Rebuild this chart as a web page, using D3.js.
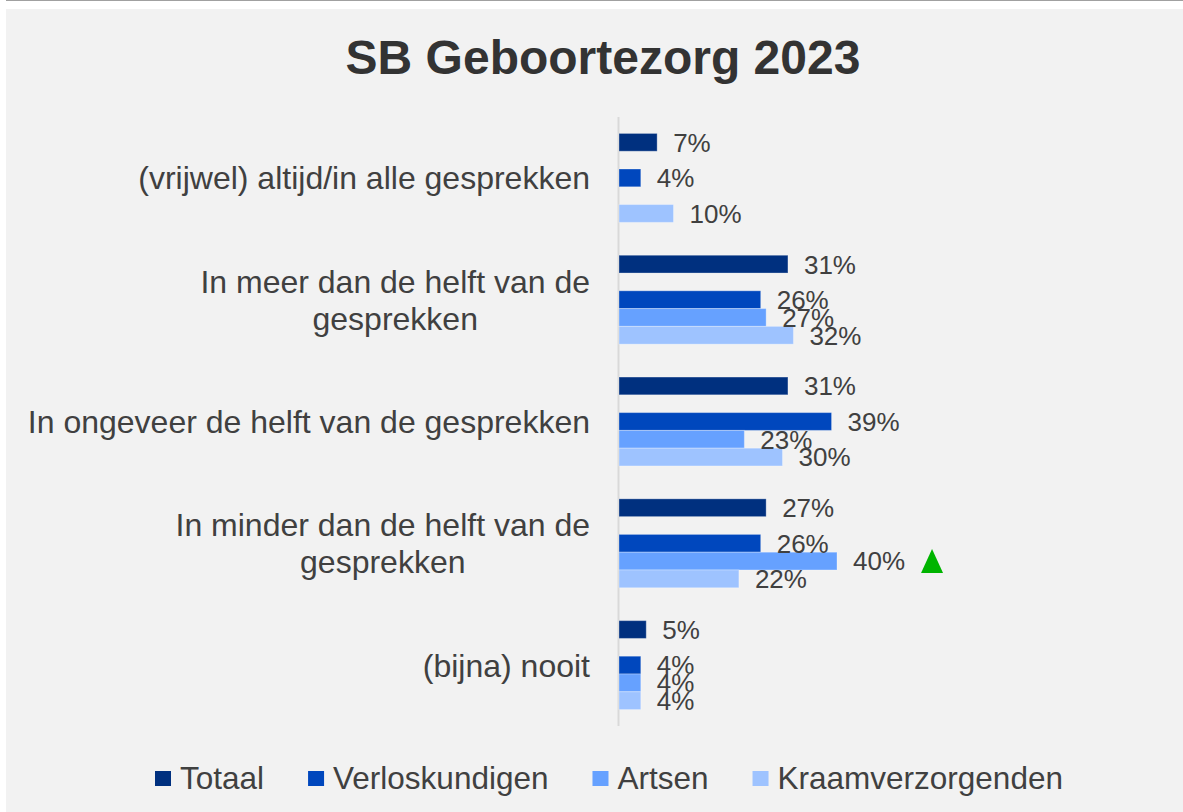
<!DOCTYPE html>
<html>
<head>
<meta charset="utf-8">
<script src="https://cdn.jsdelivr.net/npm/d3@7"></script>
<style>
  body { margin: 0; background: #fff; }
  svg { display: block; font-family: "Liberation Sans", Arial, sans-serif; }
</style>
</head>
<body>
<script>
// data (percentages)
const categories = [
    "(vrijwel) altijd/in alle gesprekken",
    "In meer dan de helft van de gesprekken",
    "In ongeveer de helft van de gesprekken",
    "In minder dan de helft van de gesprekken",
    "(bijna) nooit"
]
// labels that wrap onto two lines
const categoryLines = [
    ["(vrijwel) altijd/in alle gesprekken"],
    ["In meer dan de helft van de", "gesprekken"],
    ["In ongeveer de helft van de gesprekken"],
    ["In minder dan de helft van de", "gesprekken"],
    ["(bijna) nooit"]
]
const series = ["Totaal", "Verloskundigen", "Artsen", "Kraamverzorgenden"]
const totaal = [7, 31, 31, 27, 5]
const verloskundigen = [4, 26, 39, 26, 4]
const artsen = [null, 27, 23, 40, 4]
const kraamverzorgenden = [10, 32, 30, 22, 4]
// significantly higher than previous measurement
const significant = [{ category: "In minder dan de helft van de gesprekken", series: "Artsen" }]

const colors = {
    "Totaal": "#00307f",
    "Verloskundigen": "#0047bd",
    "Artsen": "#66a1ff",
    "Kraamverzorgenden": "#9ec3ff"
}

const measurements = { width: 1183, height: 812 }

const values = [totaal, verloskundigen, artsen, kraamverzorgenden]
const rows = categories.map((c, i) => ({
    category: c,
    bars: series.map((s, j) => ({ category: c, series: s, value: values[j][i] }))
        .filter(d => d.value !== null)
}))

const svg = d3.select("body").append("svg")
    .attr("width", measurements.width)
    .attr("height", measurements.height)

// panel background + thin rule at the top
svg.append("line")
    .attr("x1", 6).attr("x2", measurements.width)
    .attr("y1", 0.5).attr("y2", 0.5)
    .attr("stroke", "#a0a0a0")
svg.append("rect")
    .attr("x", 6).attr("y", 9)
    .attr("width", measurements.width - 6)
    .attr("height", measurements.height - 9)
    .attr("fill", "#f2f2f2")

svg.append("text")
    .attr("x", 603).attr("y", 74)
    .attr("text-anchor", "middle")
    .attr("font-size", 48)
    .attr("font-weight", "bold")
    .attr("fill", "#333")
    .text("SB Geboortezorg 2023")

// scales
const x = d3.scaleLinear().domain([0, 40]).range([619, 837])
const y0 = d3.scaleBand().domain(categories)
    .range([117, 726])
    .paddingInner(0.27)
    .paddingOuter(0.135)
// Totaal sits apart from the other three, one empty slot between
const slots = ["Totaal", "", "Verloskundigen", "Artsen", "Kraamverzorgenden"]
const y1 = d3.scaleBand().domain(slots).range([0, y0.bandwidth()])

// vertical axis line
svg.append("line")
    .attr("x1", x(0) - 0.5).attr("x2", x(0) - 0.5)
    .attr("y1", 117).attr("y2", 726)
    .attr("stroke", "#d9d9d9")
    .attr("stroke-width", 2)

const groups = svg.selectAll(".group")
    .data(rows)
    .enter()
    .append("g")
    .attr("class", "group")
    .attr("transform", d => `translate(0,${y0(d.category)})`)

groups.selectAll("rect")
    .data(d => d.bars)
    .enter()
    .append("rect")
    .attr("x", x(0))
    .attr("y", d => y1(d.series))
    .attr("width", d => x(d.value) - x(0))
    .attr("height", y1.bandwidth())
    .attr("fill", d => colors[d.series])
    .attr("stroke", "#ffffff")
    .attr("stroke-opacity", 0.3)
    .attr("stroke-width", 1)

const valueLabels = groups.selectAll(".val")
    .data(d => d.bars)
    .enter()
    .append("text")
    .attr("class", "val")
    .attr("x", d => x(d.value) + 16)
    .attr("y", d => y1(d.series) + y1.bandwidth() / 2)
    .attr("dy", "0.36em")
    .attr("font-size", 26)
    .attr("fill", "#404040")
    .text(d => d.value + "%")

// green up-triangle after significant labels
valueLabels.each(function (d) {
    const hit = significant.find(s => s.category === d.category && s.series === d.series)
    if (!hit) return
    const end = x(d.value) + 16 + this.getComputedTextLength() + 16
    const cy = y0(d.category) + y1(d.series) + y1.bandwidth() / 2
    svg.append("path")
        .attr("d", `M${end},${cy + 12} L${end + 22},${cy + 12} L${end + 11},${cy - 12} Z`)
        .attr("fill", "#00b400")
})

// category labels: block right-aligned, lines centred inside the block
const labelRight = 590
const lineHeight = 37
categoryLines.forEach((lines, i) => {
    const cy = y0(categories[i]) + y0.bandwidth() / 2
    const t = svg.append("text")
        .attr("font-size", 32)
        .attr("fill", "#404040")
        .attr("text-anchor", "middle")
    const spans = lines.map((line, k) => t.append("tspan")
        .attr("y", cy + (k - (lines.length - 1) / 2) * lineHeight)
        .attr("dy", "0.36em")
        .text(line))
    const widest = d3.max(spans, s => s.node().getComputedTextLength())
    spans.forEach(s => s.attr("x", labelRight - widest / 2))
})

// legend
const legend = svg.append("g")
let lx = 155
series.forEach(s => {
    const item = legend.append("g").attr("transform", `translate(${lx},0)`)
    item.append("rect")
        .attr("x", 0).attr("y", 771)
        .attr("width", 16).attr("height", 15)
        .attr("fill", colors[s])
    const t = item.append("text")
        .attr("x", 25).attr("y", 778)
        .attr("dy", "0.36em")
        .attr("font-size", 31.5)
        .attr("fill", "#404040")
        .text(s)
    lx += 25 + t.node().getComputedTextLength() + 44
})
</script>
</body>
</html>
